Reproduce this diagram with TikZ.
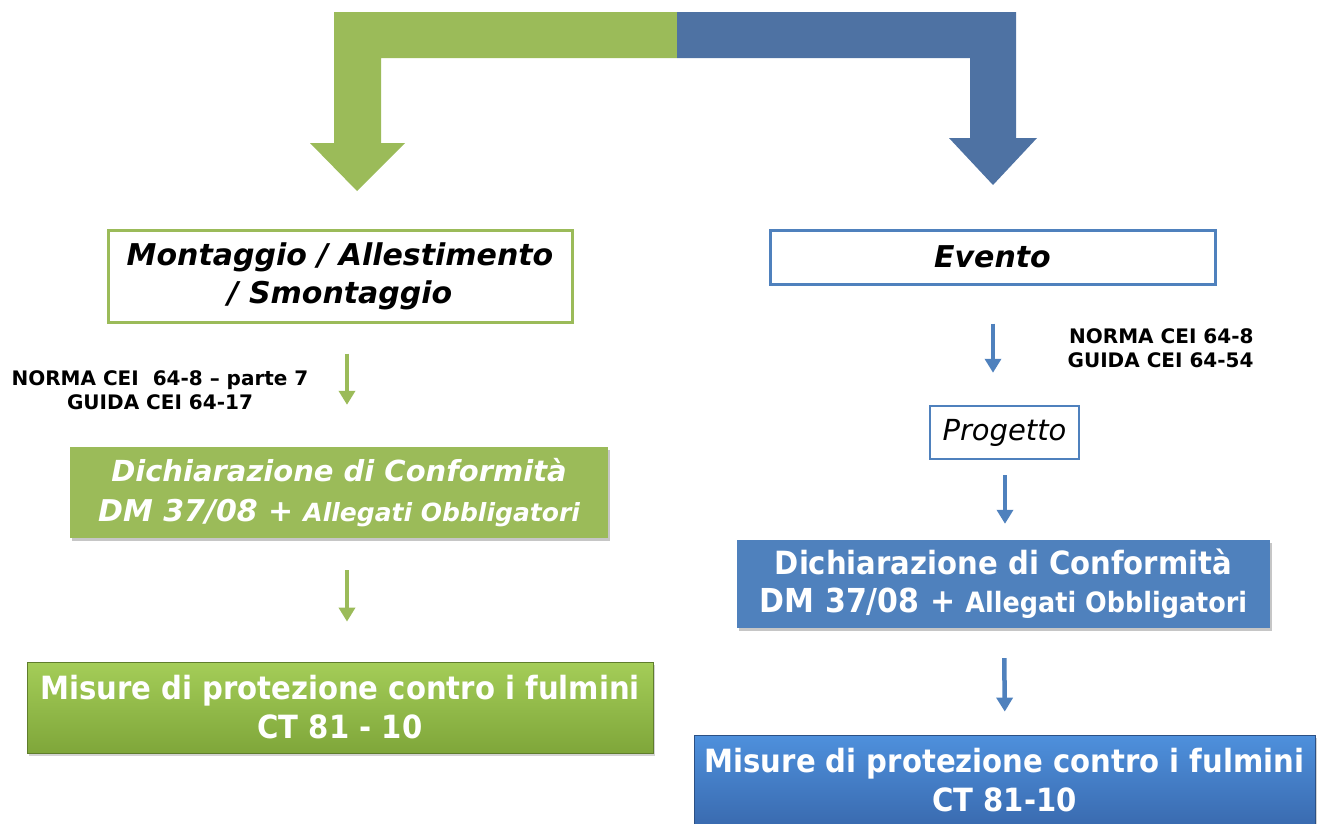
\documentclass[tikz,border=0pt]{standalone}
\usepackage{fontspec}
\setmainfont{DejaVu Sans}
\newfontfamily\tahoma[FakeStretch=0.91]{DejaVu Sans}
\usetikzlibrary{arrows.meta,shadows,positioning}
\definecolor{leafgreen}{HTML}{9BBB59}
\definecolor{steelblue}{HTML}{4F81BD}
\definecolor{darkblue}{HTML}{4E72A3}
\definecolor{greentop}{HTML}{A4CD58}
\definecolor{greenbottom}{HTML}{7FA63A}
\definecolor{bluetop}{HTML}{4E90DC}
\definecolor{bluebottom}{HTML}{3A6BB0}

\tikzset{
  framebox/.style={draw=#1, line width=3pt, fill=white, inner sep=0pt, align=center},
  fillbox/.style={fill=#1, inner sep=0pt, align=center, text=white,
    drop shadow={opacity=0.45, shadow xshift=2pt, shadow yshift=-3pt}},
  boltbox/.style={inner sep=0pt, align=center, text=white, draw=#1!75!black, line width=0.8pt,
    drop shadow={opacity=0.35, shadow xshift=2pt, shadow yshift=-3pt}},
  step arrow/.style={draw=#1, line width=4.5pt, -{Triangle[width=16pt,length=14pt]}},
  normtext/.style={font=\fontsize{20}{24}\selectfont\bfseries},
}

\begin{document}
\begin{tikzpicture}[x=1pt,y=-1pt]
\useasboundingbox (0,0) rectangle (1326,823);

\fill[leafgreen] (334,12) -- (677,12) -- (677,58) -- (381,58) -- (381,143) -- (405,143)
  -- (357,191) -- (310,143) -- (334,143) -- cycle;
\fill[darkblue] (677,12) -- (1016,12) -- (1016,138) -- (1037,138) -- (993,185) -- (949,138)
  -- (970,138) -- (970,58) -- (677,58) -- cycle;

\node[framebox=leafgreen, minimum width=464pt, minimum height=92pt,
  font=\fontsize{30}{38}\selectfont\bfseries\itshape] (montaggio) at (340,276)
  {\raisebox{-4pt}{Montaggio / Allestimento}\\\raisebox{-4pt}{/ Smontaggio}};
\node[framebox=steelblue, minimum width=445pt, minimum height=54pt,
  font=\fontsize{30}{38}\selectfont\bfseries\itshape] (evento) at (992.5,257) {Evento};

\node[normtext, align=center] (normaL) at (160,390) {NORMA CEI\ \ 64-8 -- parte 7\\GUIDA CEI 64-17};
\node[fillbox=leafgreen, minimum width=538pt, minimum height=91pt,
  font=\fontsize{29}{40}\selectfont\bfseries\itshape] (dichL) at (339,492.5)
  {Dichiarazione di Conformità\\{\fontsize{30}{40}\selectfont DM 37/08 +} {\fontsize{25}{40}\selectfont Allegati Obbligatori}};
\node[boltbox=greenbottom, top color=greentop, bottom color=greenbottom,
  minimum width=626pt, minimum height=91pt,
  font=\tahoma\fontsize{32}{39}\selectfont\bfseries] (misL) at (340,707.5)
  {Misure di protezione contro i fulmini\\CT 81 - 10};

\node[normtext, align=right, anchor=east] (normaR) at (1257,348) {NORMA CEI 64-8\\GUIDA CEI 64-54};
\node[framebox=steelblue, line width=2.5pt, minimum width=149pt, minimum height=53pt,
  font=\fontsize{29}{34}\selectfont\itshape] (progetto) at (1004.5,432.5) {\raisebox{-3pt}{Progetto}};
\node[fillbox=steelblue, minimum width=533pt, minimum height=88pt,
  font=\tahoma\fontsize{32}{38}\selectfont\bfseries] (dichR) at (1003.5,584)
  {Dichiarazione di Conformità\\{\fontsize{33}{38}\selectfont DM 37/08 +} {\fontsize{28}{38}\selectfont Allegati Obbligatori}};
\node[boltbox=bluebottom, top color=bluetop, bottom color=bluebottom,
  minimum width=621pt, minimum height=90pt,
  font=\tahoma\fontsize{32}{39}\selectfont\bfseries] (misR) at (1004.5,780)
  {Misure di protezione contro i fulmini\\CT 81-10};

\draw[step arrow=leafgreen, shorten <=30pt, shorten >=42pt] ([xshift=7pt]montaggio.south) -- ([xshift=8pt]dichL.north);
\draw[step arrow=leafgreen, shorten <=32pt, shorten >=40pt] ([xshift=8pt]dichL.south) -- ([xshift=7pt]misL.north);
\draw[step arrow=steelblue, shorten <=38pt, shorten >=32pt] ([xshift=0.5pt]evento.south) -- ([xshift=-11.5pt]progetto.north);
\draw[step arrow=steelblue, shorten <=15pt, shorten >=16pt] ([xshift=0.5pt]progetto.south) -- ([xshift=1.5pt]dichR.north);
\draw[step arrow=steelblue, shorten <=30pt, shorten >=23pt] ([xshift=0.5pt]dichR.south) -- ([xshift=0.5pt]misR.north);
\end{tikzpicture}
\end{document}
